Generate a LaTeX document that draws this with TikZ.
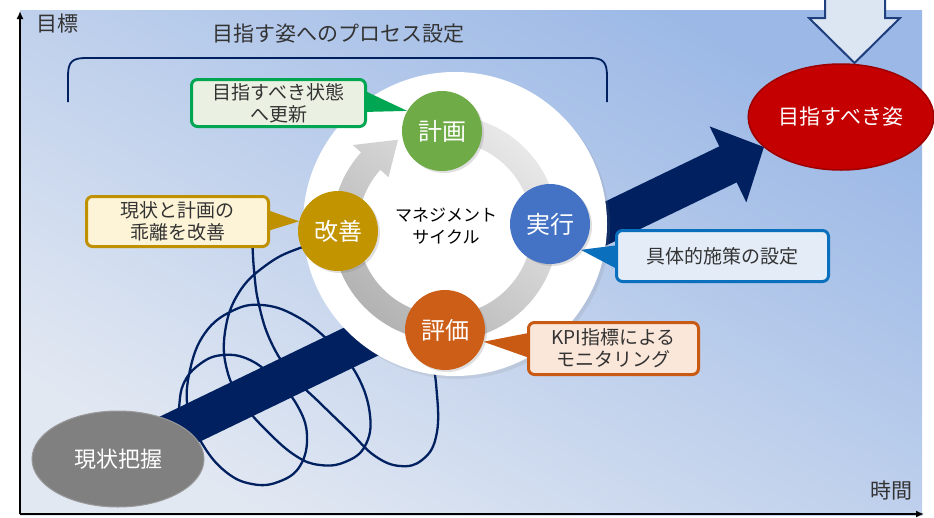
\documentclass[tikz,border=0pt]{standalone}
\usepackage{fontspec}
\setmainfont{Noto Sans CJK JP}
\usetikzlibrary{shapes.geometric,arrows.meta,shadows,calc}
\pgfdeclarelayer{bg}
\pgfdeclarelayer{coil}
\pgfdeclarelayer{arrowl}
\pgfdeclarelayer{disk}
\pgfdeclarelayer{ptr}
\pgfsetlayers{bg,coil,arrowl,disk,ptr,main}
\definecolor{navy}{HTML}{002060}
\definecolor{bgdark}{HTML}{9BB8E6}
\definecolor{bglight}{HTML}{E2E8F2}
\definecolor{txt}{HTML}{333333}
\definecolor{cgreen}{HTML}{00A651}
\definecolor{cgreenf}{HTML}{EAF1E2}
\definecolor{cgold}{HTML}{BF9000}
\definecolor{cgoldf}{HTML}{FDF4D8}
\definecolor{cblue}{HTML}{0A70BE}
\definecolor{cbluef}{HTML}{E3ECF7}
\definecolor{corange}{HTML}{C95A14}
\definecolor{corangef}{HTML}{FBE7DA}
\definecolor{kgreen}{HTML}{6FAB46}
\definecolor{kblue}{HTML}{4472C4}
\definecolor{korange}{HTML}{CC5E17}
\definecolor{kgold}{HTML}{C29500}
\definecolor{goalred}{HTML}{C40000}
\definecolor{arrowfill}{HTML}{DCE6F2}
\definecolor{arrowline}{HTML}{1F3F7F}
\begin{document}
\begin{tikzpicture}[x=1pt,y=-1pt,
  lbl/.style={text=txt, font=\fontsize{21}{24}\selectfont, inner sep=0pt},
  cyc/.style={circle, minimum size=80pt, inner sep=0pt, text=white,
    font=\fontsize{24}{26}\selectfont,
    drop shadow={opacity=0.25, shadow xshift=2pt, shadow yshift=-2pt}},
  callbox/.style={rounded corners=6pt, line width=3pt, align=center, inner sep=0pt,
    text=txt, font=\fontsize{19}{22}\selectfont},
  coilline/.style={draw=navy, line width=2.3pt, line join=round},
  bigarrow/.style={draw=navy, line width=40pt, -{Triangle[length=40pt,width=82pt]}},
  axisline/.style={draw=black, line width=1.6pt, -{Latex[length=8pt,width=7pt]}},
  bracketline/.style={draw=navy, line width=1.8pt}
]
\useasboundingbox (0,0) rectangle (934,517);

% background
\begin{pgfonlayer}{bg}
\fill[white] (0,0) rectangle (934,517);
\shade[top color=bgdark, bottom color=bglight, shading angle=-30] (20,10) rectangle (922,515);
\end{pgfonlayer}

% axes
\coordinate (origin) at (20,514);
\coordinate (ytop) at (20,11);
\coordinate (xend) at (924,514);
\draw[axisline] (origin) -- (ytop);
\draw[axisline] (origin) -- (xend);
\node[lbl] (ylab) at (57,24) {目標};
\node[lbl] (xlab) at (891,491) {時間};

% title and bracket
\node[lbl] (title) at (338,34) {目指す姿へのプロセス設定};
\draw[bracketline] (68,102) -- (68,76) .. controls (68,62) and (72,58) .. (86,58)
  -- (590,58) .. controls (603,58) and (607,62) .. (607,76) -- (607,102);

% down arrow (top right)
\draw[fill=arrowfill, draw=arrowline, line width=2pt, line join=miter]
  (825,-6) -- (825,18) -- (809,18) -- (854.5,63) -- (900,18) -- (885,18) -- (885,-6) -- cycle;

% coil
\begin{pgfonlayer}{coil}
\draw[coilline] plot[smooth, tension=0.7] coordinates {
  (165,440) (177,418) (183,385) (200,364) (223,355) (250,360) (276,380)
  (297,405) (307,435) (300,466) (278,482) (252,484) (226,472)
  (203,445) (188,410) (190,370) (205,333) (232,311) (262,305) (296,316)
  (330,342) (357,375) (370,415) (365,446) (345,462) (320,465) (296,456)
  (268,432) (243,403) (227,370) (225,332) (238,294) (265,266) (300,248)
  (350,236) (400,275) (428,345) (437,395) (436,437) (422,460) (400,466)
  (375,456) (350,432) (320,403) (292,375) (271,342) (259,305) (254,270) (252,232)};
\end{pgfonlayer}

% end ellipses
\node[ellipse, fill=gray, draw=gray!80, line width=1pt,
  minimum width=172pt, minimum height=96pt, text=white,
  font=\fontsize{22}{24}\selectfont] (genjo) at (118,459) {現状把握};
\node[ellipse, fill=goalred, draw=goalred!80!black, line width=1.5pt,
  minimum width=184pt, minimum height=106pt, text=white,
  font=\fontsize{21}{24}\selectfont] (goal) at (841,117) {目指すべき姿};

% big arrow
\coordinate (atip) at (764,147);
\begin{pgfonlayer}{arrowl}
\draw[bigarrow] (genjo.center) -- (atip);
\end{pgfonlayer}

% white disk and ring
\begin{pgfonlayer}{disk}
\node[circle, fill=white, minimum size=304pt, inner sep=0pt,
  drop shadow={opacity=0.15, shadow xshift=3pt, shadow yshift=-3pt}] (disk) at (455,224) {};
\shade[top color=gray!18, bottom color=gray!60, shading angle=-40]
  plot[domain=-85:222, samples=90] ({445+113*cos(\x)},{228+113*sin(\x)})
  -- ({445+124*cos(222)},{228+124*sin(222)})
  -- ({445+100*cos(242)},{228+100*sin(242)})
  -- ({445+76*cos(222)},{228+76*sin(222)})
  -- plot[domain=222:-85, samples=90] ({445+87*cos(\x)},{228+87*sin(\x)}) -- cycle;
\end{pgfonlayer}

% cycle nodes
\node[cyc, fill=kgreen] (keikaku) at (442,131) {計画};
\node[cyc, fill=kblue] (jikko) at (550,224) {実行};
\node[cyc, fill=korange] (hyoka) at (445,330) {評価};
\node[cyc, fill=kgold] (kaizen) at (338,231) {改善};
\node[text=black, align=center, font=\fontsize{17}{22}\selectfont, inner sep=0pt] (center) at (446,226) {マネジメント\\サイクル};

% callouts
\node[callbox, draw=cgreen, fill=cgreenf, minimum width=174pt, minimum height=47pt] (cb1) at (278.5,103) {目指すべき状態\\へ更新};
\node[callbox, draw=cgold, fill=cgoldf, minimum width=182pt, minimum height=50pt] (cb2) at (177.5,221.5) {現状と計画の\\乖離を改善};
\node[callbox, draw=cblue, fill=cbluef, minimum width=212pt, minimum height=51pt] (cb3) at (722.5,256) {具体的施策の設定};
\node[callbox, draw=corange, fill=corangef, minimum width=170pt, minimum height=52pt] (cb4) at (613.5,348.5) {KPI指標による\\モニタリング};

\begin{pgfonlayer}{ptr}
\fill[cgreen] ($(cb1.east)+(-4,-13)$) -- ($(cb1.east)+(-4,9)$) -- (keikaku.150) -- cycle;
\fill[cgold] ($(cb2.east)+(-4,-12)$) -- ($(cb2.east)+(-4,10)$) -- (kaizen.166) -- cycle;
\fill[cblue] ($(cb3.west)+(4,-11)$) -- ($(cb3.west)+(4,14)$) -- (jikko.-40) -- cycle;
\fill[corange] ($(cb4.west)+(4,-16)$) -- ($(cb4.west)+(4,10)$) -- (hyoka.-17) -- cycle;
\end{pgfonlayer}
\end{tikzpicture}
\end{document}
